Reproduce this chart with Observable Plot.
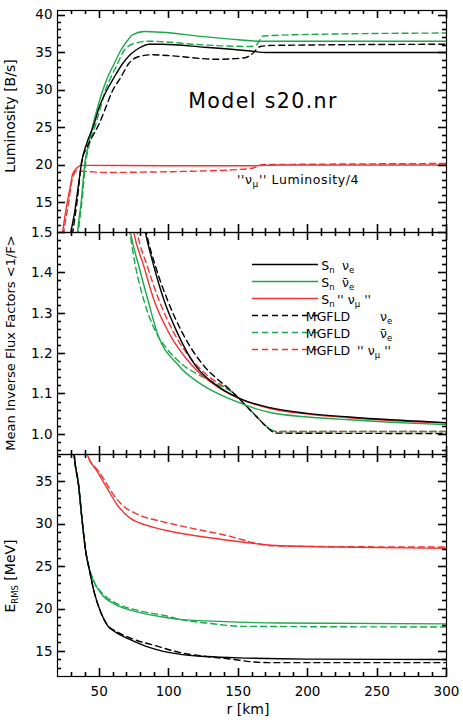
<!DOCTYPE html>
<html><head><meta charset="utf-8">
<script src="https://cdn.jsdelivr.net/npm/d3@7"></script>
<script src="https://cdn.jsdelivr.net/npm/@observablehq/plot@0.6"></script>
<style>
body{margin:0;background:#fff;}
#chart{position:relative;width:463px;height:720px;overflow:hidden;}
#chart > svg{position:absolute;left:0;overflow:visible;}
</style>
</head><body><div id="chart"></div>
<script>
// ---------- axis ticks ----------
const xDomain = [20, 300];
const xMajor = [50, 100, 150, 200, 250, 300];
const lumDomain = [11, 40.6];
const lumMajor = [15, 20, 25, 30, 35, 40];
const fluxDomain = [0.95, 1.5];
const fluxMajor = [1.0, 1.1, 1.2, 1.3, 1.4, 1.5];
const ermsDomain = [12.05, 38.2];
const ermsMajor = [15, 20, 25, 30, 35];

// ---------- colours ----------
const cBlack = "#000000", cGreen = "#1aa84b", cRed = "#f03434";

// ---------- Luminosity [B/s] : [r km, value] ----------
const lumSnNue = [[27.5,8],[29.7,11],[32.5,13.9],[35.2,17.5],[37.6,20.6],[40.9,22.8],[46.4,25.5],[50,27.7],[55.3,29.9],[60.8,31.7],[66.8,33.5],[72.8,34.8],[78.8,35.6],[86,36.1],[95,36.1],[126,35.7],[159,35.2],[170,35.0],[300,35.0]];
const lumSnNuebar = [[33.8,9],[34.5,11],[37,15],[39.9,20.6],[42.4,22.8],[45.7,25.5],[48.9,27.7],[52.5,29.9],[56.1,31.7],[60.8,33.5],[65.6,35.3],[70.4,36.6],[73.5,37.3],[82.4,37.8],[95,37.7],[123,37.15],[150,36.7],[166,36.5],[300,36.5]];
const lumSnNumu = [[22,8],[23.7,11],[27,15],[29.6,17.5],[30.9,18.8],[34.5,19.7],[37,19.95],[100,19.9],[160,19.9],[180,20.0],[300,20.0]];
const lumMgNue = [[29,8],[31,11],[34,15],[37.6,20.6],[41,22.3],[44.8,23.7],[50,25.5],[54.8,27.7],[59.6,29.9],[65.6,31.7],[71.2,33.5],[77.6,34.4],[88,34.7],[99,34.6],[135,34.1],[155,34.3],[160,34.8],[166,35.8],[175,35.95],[300,36.1]];
const lumMgNuebar = [[34,9],[35,11],[37.5,15],[40.5,20.6],[43,22.8],[47.6,25.5],[51,27.7],[54.3,29.9],[58.5,31.7],[63.2,33.5],[68,35.3],[75.2,36.2],[86,36.5],[126,36.0],[159,35.8],[163,36.0],[168,37.2],[200,37.4],[300,37.6]];
const lumMgNumu = [[22.5,8],[24.5,11],[28,15],[30.5,18],[33.8,19.2],[40,19.15],[55,19.0],[80,19.05],[123,19.2],[150,19.4],[161,19.6],[167,20.05],[200,20.1],[300,20.2]];

// ---------- Mean inverse flux factor <1/F> ----------
const fluxSnNue = [[80,1.56],[83.3,1.5],[89.3,1.417],[96.5,1.334],[106.2,1.252],[119.3,1.17],[135,1.12],[151.7,1.088],[173,1.066],[200,1.052],[230,1.043],[260,1.036],[300,1.029]];
const fluxSnNuebar = [[70,1.56],[72.6,1.5],[78.5,1.417],[85,1.334],[91.7,1.252],[107.3,1.17],[125.3,1.12],[144.5,1.087],[173,1.054],[200,1.043],[230,1.036],[260,1.03],[300,1.024]];
const fluxSnNumu = [[72,1.56],[74.9,1.5],[82.1,1.417],[89.3,1.334],[100.1,1.252],[117,1.17],[135,1.118],[154,1.084],[173,1.064],[200,1.05],[230,1.041],[260,1.034],[300,1.028]];
const fluxMgNue = [[81,1.56],[84,1.5],[90.5,1.417],[99,1.334],[109.8,1.252],[125.3,1.17],[135,1.137],[145,1.108],[155.6,1.071],[163,1.045],[171,1.017],[177,1.003],[300,1.002]];
const fluxMgNuebar = [[69,1.56],[72,1.5],[76.1,1.417],[82,1.334],[91,1.252],[99,1.211],[111,1.17],[123,1.145],[135,1.124],[145,1.106],[155.6,1.071],[163,1.045],[171,1.018],[177,1.007],[300,1.007]];
const fluxMgNumu = [[74.5,1.56],[77.4,1.5],[84.6,1.417],[92.9,1.334],[103.7,1.252],[120.5,1.17],[130,1.14],[138,1.122],[145,1.107],[155.6,1.071],[163,1.045],[171,1.018],[177,1.007],[300,1.007]];

// ---------- E_RMS [MeV] ----------
const ermsSnNue = [[30.5,42],[32,38.23],[35.2,34.57],[37.6,30.63],[40.4,26.7],[42.8,24.73],[46.4,21.98],[51.2,19.6],[56,18.04],[62,17.25],[71.6,16.46],[86,15.48],[108.7,14.65],[127,14.4],[157,14.22],[200,14.1],[300,14.05]];
const ermsSnNuebar = [[30.5,42],[32,38.23],[35.2,34.57],[37.6,30.63],[40.4,26.7],[42,25.3],[45.3,23.55],[52.5,21.59],[60.8,20.6],[78.8,19.6],[98,19.0],[110,18.75],[127,18.6],[150,18.45],[180,18.35],[300,18.25]];
const ermsSnNumu = [[39,40],[41.4,38.2],[48.6,36.2],[55.8,34.2],[63,32.25],[72.5,30.67],[83.3,29.9],[102.6,29.1],[133.7,28.3],[162.5,27.7],[180,27.45],[220,27.3],[300,27.15]];
const ermsMgNue = [[30.5,42],[32,38.23],[35.2,34.57],[37.6,30.63],[40.4,26.7],[42.8,24.73],[46.4,21.98],[51.2,19.6],[56,18.1],[62,17.4],[74.4,16.46],[90.6,15.68],[107.6,14.89],[130,14.35],[145,14.1],[160,13.78],[175,13.68],[300,13.68]];
const ermsMgNuebar = [[30.5,42],[32,38.23],[35.2,34.57],[37.6,30.63],[40.4,26.7],[42,25.35],[45.3,23.6],[52.5,21.8],[60.8,20.8],[78.8,19.8],[98,19.2],[108.7,18.75],[130,18.3],[152,17.96],[300,17.88]];
const ermsMgNumu = [[39,40],[41.4,38.2],[49.7,36.2],[54.5,35.0],[60.5,33.4],[66.6,32.25],[78.5,31.1],[95.4,30.3],[117,29.5],[145.7,28.5],[160,27.85],[175,27.45],[220,27.35],[300,27.3]];

// ---------- helpers ----------
const FONT = "DejaVu Sans";
const W = 463, ML = 57, MR = 17;
const xMinor = d3.range(30, 300, 10).filter(v => v % 50 !== 0);

function lines(list) {
  return list.map(([data, color, dash]) => Plot.line(data, {
    x: d => d[0], y: d => d[1], stroke: color, strokeWidth: 1.4,
    strokeDasharray: dash ? "6,4" : null, curve: "monotone-x", clip: true
  }));
}

// inward ticks on all four sides, positioned with the plot's own scales
function addTicks(svg, yMaj, yMin) {
  const sx = svg.scale("x"), sy = svg.scale("y");
  const [xl, xr] = sx.range, [yb, yt] = sy.range;
  const g = d3.select(svg).append("g").attr("stroke", "#000").attr("stroke-width", 1.6);
  for (const [vals, len] of [[xMajor, 8], [xMinor, 4]]) {
    for (const v of vals) {
      const px = Math.round(sx.apply(v)) + 0.5;
      g.append("line").attr("x1", px).attr("x2", px).attr("y1", yb).attr("y2", yb - len);
      g.append("line").attr("x1", px).attr("x2", px).attr("y1", yt).attr("y2", yt + len);
    }
  }
  for (const [vals, len] of [[yMaj, 8], [yMin, 4]]) {
    for (const v of vals) {
      const py = Math.round(sy.apply(v)) + 0.5;
      g.append("line").attr("x1", xl).attr("x2", xl + len).attr("y1", py).attr("y2", py);
      g.append("line").attr("x1", xr).attr("x2", xr - len).attr("y1", py).attr("y2", py);
    }
  }
}

function panel({yDomain, yMajor, yMinor, yFormat, series, top, height, marginTop, marginBottom, xLabels}) {
  const marks = [
    ...lines(series),
    Plot.frame({stroke: "#000", strokeWidth: 1.2}),
    Plot.axisY(yMajor, {anchor: "left", tickSize: 0, tickPadding: 5, label: null, fontSize: 13.5, tickFormat: yFormat})
  ];
  if (xLabels) marks.push(Plot.axisX(xMajor, {anchor: "bottom", tickSize: 0, tickPadding: 10, label: null, fontSize: 13.5, tickFormat: d3.format("d")}));
  const svg = Plot.plot({
    width: W, height, marginLeft: ML, marginRight: MR, marginTop, marginBottom,
    x: {domain: xDomain, axis: null},
    y: {domain: yDomain, axis: null},
    style: {background: "transparent", fontFamily: FONT, color: "#000"},
    marks
  });
  svg.style.top = top + "px";
  document.getElementById("chart").appendChild(svg);
  addTicks(svg, yMajor, yMinor);
  return d3.select(svg);
}

// ---------- panel 1 : luminosity ----------
const p1 = panel({
  yDomain: lumDomain, yMajor: lumMajor,
  yMinor: d3.range(12, 41).filter(v => v % 5 !== 0),
  yFormat: d3.format("d"),
  series: [
    [lumSnNumu, cRed, false], [lumMgNumu, cRed, true],
    [lumMgNuebar, cGreen, true], [lumSnNuebar, cGreen, false],
    [lumMgNue, cBlack, true], [lumSnNue, cBlack, false]
  ],
  top: 0, height: 232, marginTop: 10, marginBottom: 0
});
p1.append("text").attr("transform", "translate(15,116) rotate(-90)")
  .attr("text-anchor", "middle").attr("font-size", 14).attr("font-family", FONT)
  .text("Luminosity [B/s]");
p1.append("text").attr("x", 263).attr("y", 108).attr("font-size", 20.5)
  .attr("letter-spacing", 1.4).attr("font-family", FONT).text("Model s20.nr");
const nl = p1.append("text").attr("x", 298).attr("y", 184).attr("font-size", 12.5)
  .attr("font-family", FONT).attr("letter-spacing", 0.6);
nl.append("tspan").text("''ν");
nl.append("tspan").attr("dy", 3).attr("font-size", 9).text("μ");
nl.append("tspan").attr("dy", -3).text("'' Luminosity/4");

// ---------- panel 2 : flux factors ----------
const p2 = panel({
  yDomain: fluxDomain, yMajor: fluxMajor,
  yMinor: d3.range(48, 75).filter(i => i % 5 !== 0).map(i => i / 50),
  yFormat: d3.format(".1f"),
  series: [
    [fluxMgNumu, cRed, true], [fluxMgNuebar, cGreen, true], [fluxMgNue, cBlack, true],
    [fluxSnNuebar, cGreen, false], [fluxSnNumu, cRed, false], [fluxSnNue, cBlack, false]
  ],
  top: 222, height: 242, marginTop: 10, marginBottom: 10
});
p2.append("text").attr("transform", "translate(15,121) rotate(-90)")
  .attr("text-anchor", "middle").attr("font-size", 13).attr("font-family", FONT)
  .text("Mean Inverse Flux Factors <1/F>");

// legend
const legendRows = [
  {color: cBlack, dash: false, a: "S", sub: "n", nu: "ν", nusub: "e", q: false},
  {color: cGreen, dash: false, a: "S", sub: "n", nu: "ν̄", nusub: "e", q: false},
  {color: cRed, dash: false, a: "S", sub: "n", nu: "ν", nusub: "μ", q: true},
  {color: cBlack, dash: true, a: "MGFLD", sub: "", nu: "ν", nusub: "e", q: false},
  {color: cGreen, dash: true, a: "MGFLD", sub: "", nu: "ν̄", nusub: "e", q: false},
  {color: cRed, dash: true, a: "MGFLD", sub: "", nu: "ν", nusub: "μ", q: true}
];
const lg = p2.append("g").attr("font-family", FONT).attr("font-size", 12.5);
legendRows.forEach((r, i) => {
  const y = 42.5 + i * 17;
  lg.append("line").attr("x1", 252).attr("x2", 318).attr("y1", y).attr("y2", y)
    .attr("stroke", r.color).attr("stroke-width", 1.4).attr("stroke-dasharray", r.dash ? "6,4" : null);
  const t = lg.append("text").attr("x", 328).attr("y", y + 5);
  t.append("tspan").text(r.a);
  if (r.sub) t.append("tspan").attr("dy", 3).attr("font-size", 8.5).text(r.sub);
  const nx = r.a === "S" ? (r.q ? 354 : 348) : (r.q ? 374 : 386);
  const t2 = lg.append("text").attr("x", nx).attr("y", y + 5);
  t2.append("tspan").text((r.q ? "'' " : "") + r.nu);
  t2.append("tspan").attr("dy", 3).attr("font-size", 8.5).text(r.nusub);
  if (r.q) t2.append("tspan").attr("dy", -3).text(" ''");
});

// ---------- panel 3 : E_RMS ----------
const p3 = panel({
  yDomain: ermsDomain, yMajor: ermsMajor,
  yMinor: d3.range(13, 39).filter(v => v % 5 !== 0),
  yFormat: d3.format("d"),
  series: [
    [ermsMgNumu, cRed, true], [ermsSnNumu, cRed, false],
    [ermsMgNuebar, cGreen, true], [ermsSnNuebar, cGreen, false],
    [ermsMgNue, cBlack, true], [ermsSnNue, cBlack, false]
  ],
  top: 444, height: 276, marginTop: 10, marginBottom: 44, xLabels: true
});
const et = p3.append("text").attr("transform", "translate(15,132) rotate(-90)")
  .attr("text-anchor", "middle").attr("font-size", 14).attr("font-family", FONT);
et.append("tspan").text("E");
et.append("tspan").attr("dy", 3).attr("font-size", 8.5).text("RMS");
et.append("tspan").attr("dy", -3).text(" [MeV]");
p3.append("text").attr("x", 248).attr("y", 270).attr("text-anchor", "middle")
  .attr("font-size", 14).attr("font-family", FONT).text("r [km]");
</script></body></html>
